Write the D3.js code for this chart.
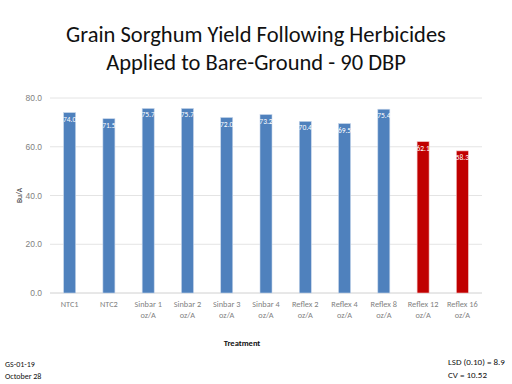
<!DOCTYPE html>
<html>
<head>
<meta charset="utf-8">
<script src="https://cdnjs.cloudflare.com/ajax/libs/d3/7.8.5/d3.min.js"></script>
<style>
  body { margin: 0; background: #fff; }
  svg { display: block; font-family: Carlito, "Open Sans", "Liberation Sans", sans-serif; }
</style>
</head>
<body>
<div id="chart"></div>
<script>
(function () {
    'use strict';

    // chart data
    var treatments = [
        ['NTC1'], ['NTC2'], ['Sinbar 1', 'oz/A'], ['Sinbar 2', 'oz/A'], ['Sinbar 3', 'oz/A'],
        ['Sinbar 4', 'oz/A'], ['Reflex 2', 'oz/A'], ['Reflex 4', 'oz/A'], ['Reflex 8', 'oz/A'],
        ['Reflex 12', 'oz/A'], ['Reflex 16', 'oz/A']
    ];
    var yields = [74.0, 71.5, 75.7, 75.7, 72.0, 73.2, 70.4, 69.5, 75.4, 62.1, 58.3];
    var highlighted = [false, false, false, false, false, false, false, false, false, true, true];
    var yTicks = [0, 20, 40, 60, 80];

    var width = 512, height = 384;
    var plot = { left: 50, right: 482, top: 98, bottom: 293 };

    var svg = d3.select('#chart').append('svg')
        .attr('width', width)
        .attr('height', height);

    var x = d3.scaleBand()
        .domain(d3.range(treatments.length))
        .range([plot.left, plot.right]);

    var y = d3.scaleLinear()
        .domain([0, 80])
        .range([plot.bottom, plot.top]);

    // title
    svg.append('text')
        .attr('x', 256).attr('y', 42)
        .attr('text-anchor', 'middle')
        .attr('font-size', 22.5)
        .attr('fill', '#111')
        .text('Grain Sorghum Yield Following Herbicides');
    svg.append('text')
        .attr('x', 256).attr('y', 70)
        .attr('text-anchor', 'middle')
        .attr('font-size', 22.5)
        .attr('fill', '#111')
        .text('Applied to Bare-Ground - 90 DBP');

    // gridlines
    svg.append('g')
        .selectAll('line')
        .data(yTicks).enter()
        .append('line')
        .attr('x1', plot.left).attr('x2', plot.right)
        .attr('y1', function (d) { return y(d); })
        .attr('y2', function (d) { return y(d); })
        .attr('stroke', function (d) { return d === 0 ? '#d0d0d0' : '#e4e4e4'; })
        .attr('stroke-width', 1);

    // y axis labels
    var yAxis = d3.axisLeft(y)
        .tickValues(yTicks)
        .tickFormat(d3.format('.1f'))
        .tickSize(0)
        .tickPadding(8);
    var yg = svg.append('g')
        .attr('transform', 'translate(' + plot.left + ',0)')
        .call(yAxis);
    yg.select('.domain').remove();
    yg.selectAll('text')
        .attr('font-size', 8.5)
        .attr('fill', '#7f7f7f')
        .attr('font-family', 'inherit');

    svg.append('text')
        .attr('transform', 'translate(22,' + ((plot.top + plot.bottom) / 2) + ') rotate(-90)')
        .attr('text-anchor', 'middle')
        .attr('font-size', 7.5)
        .attr('fill', '#333')
        .text('Bu/A');

    // bars
    var barW = 12;
    svg.append('g')
        .selectAll('rect')
        .data(yields).enter()
        .append('rect')
        .attr('x', function (d, i) { return x(i) + x.bandwidth() / 2 - barW / 2; })
        .attr('y', function (d) { return y(d); })
        .attr('width', barW)
        .attr('height', function (d) { return y(0) - y(d); })
        .attr('fill', function (d, i) { return highlighted[i] ? '#c00000' : '#4f81bd'; })
        .attr('stroke', function (d, i) { return highlighted[i] ? '#f2c4c4' : '#c5d5ea'; })
        .attr('stroke-width', 0.6);

    // value labels
    svg.append('g')
        .selectAll('text')
        .data(yields).enter()
        .append('text')
        .attr('x', function (d, i) { return x(i) + x.bandwidth() / 2; })
        .attr('y', function (d) { return y(d) + 9; })
        .attr('text-anchor', 'middle')
        .attr('font-size', 7.5)
        .attr('fill', '#fff')
        .text(function (d) { return d.toFixed(1); });

    // x tick labels
    var xg = svg.append('g');
    treatments.forEach(function (lines, i) {
        var t = xg.append('text')
            .attr('x', x(i) + x.bandwidth() / 2)
            .attr('y', 307)
            .attr('text-anchor', 'middle')
            .attr('font-size', 8.3)
            .attr('fill', '#7f7f7f');
        lines.forEach(function (s, k) {
            t.append('tspan')
                .attr('x', x(i) + x.bandwidth() / 2)
                .attr('dy', k === 0 ? 0 : 11)
                .text(s);
        });
    });

    svg.append('text')
        .attr('x', 242).attr('y', 346)
        .attr('text-anchor', 'middle')
        .attr('font-size', 8.5)
        .attr('font-weight', 'bold')
        .attr('fill', '#111')
        .text('Treatment');

    // footnotes
    svg.append('text')
        .attr('x', 5).attr('y', 367)
        .attr('font-size', 8).attr('fill', '#111')
        .text('GS-01-19');
    svg.append('text')
        .attr('x', 5).attr('y', 379)
        .attr('font-size', 8).attr('fill', '#111')
        .text('October 28');
    svg.append('text')
        .attr('x', 448).attr('y', 365)
        .attr('font-size', 9).attr('fill', '#111')
        .text('LSD (0.10) = 8.9');
    svg.append('text')
        .attr('x', 448).attr('y', 378)
        .attr('font-size', 9).attr('fill', '#111')
        .text('CV = 10.52');
})();
</script>
</body>
</html>
